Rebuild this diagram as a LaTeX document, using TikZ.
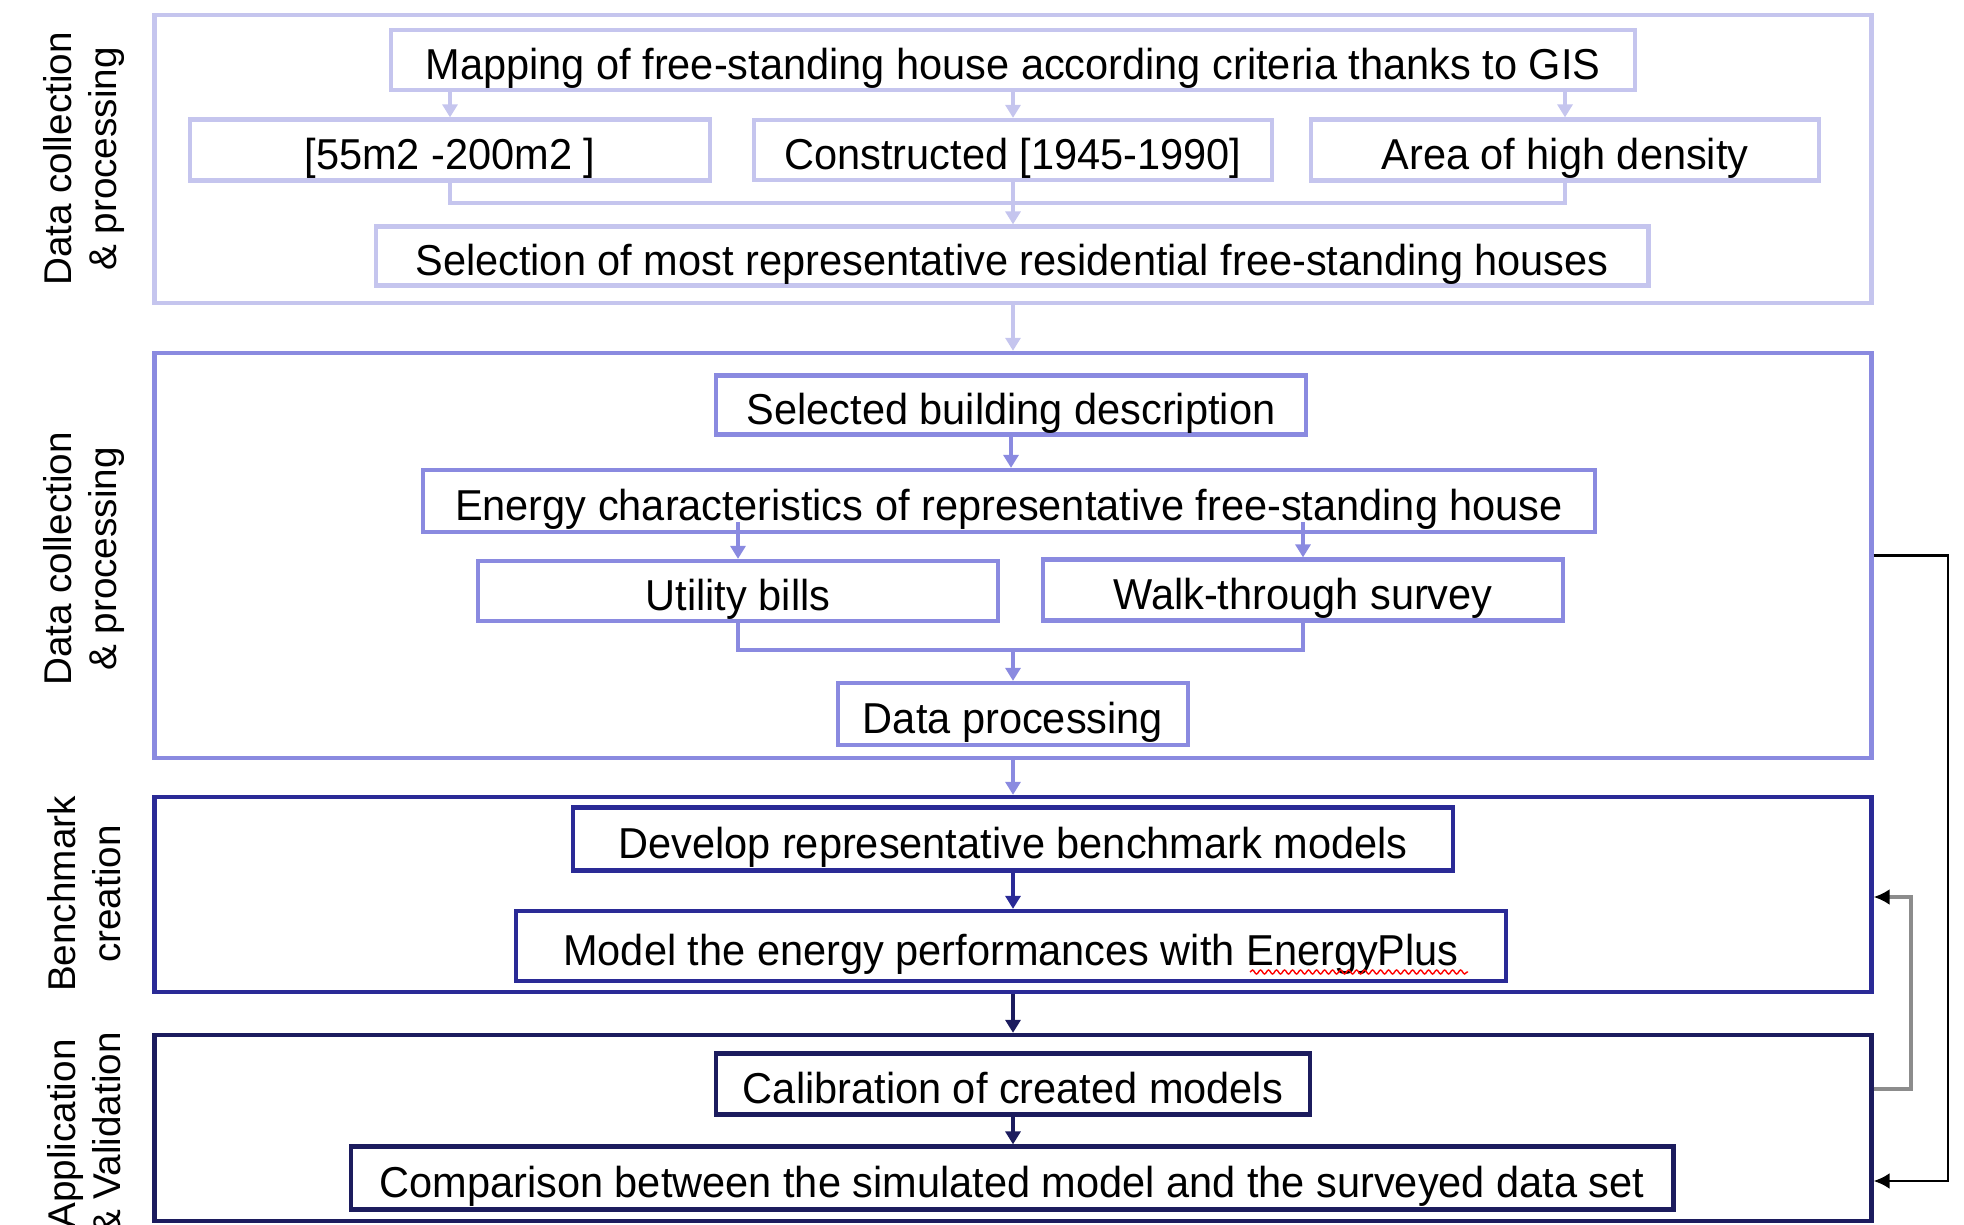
\documentclass[tikz,border=0pt]{standalone}
\usepackage{fontspec}
\setmainfont{Liberation Sans}
\newfontfamily\boxfont{Liberation Sans}[FakeStretch=0.96]
\usetikzlibrary{arrows.meta,decorations.pathmorphing}
\definecolor{stageLight}{HTML}{C5C5EE}
\definecolor{stageMid}{HTML}{8A8AE0}
\definecolor{stageDark}{HTML}{2A2A96}
\definecolor{stageNavy}{HTML}{1C1C5E}
\definecolor{loopGray}{HTML}{8C8C8C}
\tikzset{
    stagebox/.style={draw, line width=1.2pt, minimum width=17.16cm, inner sep=0pt},
    taskbox/.style={draw, line width=1.2pt, inner sep=0pt, text height=0.46cm, text depth=0.08cm, font=\boxfont\fontsize{12.3}{14}\selectfont},
    sidelabel/.style={rotate=90, align=center, font=\fontsize{11}{12.8}\selectfont},
    flow/.style={-{Triangle[length=1.3mm, width=1.5mm]}, line width=0.9pt},
    feedback/.style={-{Latex[length=1.6mm, width=1.6mm, color=black]}, line width=0.8pt}
}

\begin{document}
\begin{tikzpicture}[x=0.01cm, y=-0.01cm, line join=miter]
    \useasboundingbox (0,0) rectangle (1964,1225);

    % stage frames
    \node[stagebox, draw=stageLight, minimum height=2.88cm] (g1) at (1013,159) {};
    \node[stagebox, draw=stageMid, minimum height=4.05cm] (g2) at (1013,555.5) {};
    \node[stagebox, draw=stageDark, minimum height=1.95cm] (g3) at (1013,894.5) {};
    \node[stagebox, draw=stageNavy, minimum height=1.86cm] (g4) at (1013,1128) {};

    \node[sidelabel] (lab1) at (84,159) {Data collection\\\& processing};
    \node[sidelabel] (lab2) at (84,559) {Data collection\\\& processing};
    \node[sidelabel] (lab3) at (84,894) {Benchmark\\creation};
    \node[sidelabel] (lab4) at (84,1134) {Application\\\& Validation};

    % stage 1
    \node[taskbox, draw=stageLight, minimum width=12.43cm, minimum height=0.60cm] (map) at (1013,60) {Mapping of free-standing house according criteria thanks to GIS};
    \node[taskbox, draw=stageLight, minimum width=5.20cm, minimum height=0.61cm] (area55) at (450,150) {[55m2 -200m2 ]};
    \node[taskbox, draw=stageLight, minimum width=5.18cm, minimum height=0.60cm] (built) at (1013,150) {Constructed [1945-1990]};
    \node[taskbox, draw=stageLight, minimum width=5.08cm, minimum height=0.61cm] (dense) at (1565,150) {Area of high density};
    \node[taskbox, draw=stageLight, minimum width=12.72cm, minimum height=0.59cm] (sel) at (1012,256) {Selection of most representative residential free-standing houses};
    \coordinate (join1) at (1013,203);

    \draw[flow, stageLight] (area55.north |- map.south) -- (area55.north);
    \draw[flow, stageLight] (built.north |- map.south) -- (built.north);
    \draw[flow, stageLight] (dense.north |- map.south) -- (dense.north);
    \draw[line width=0.9pt, stageLight] (area55.south) |- (join1) -| (dense.south);
    \draw[flow, stageLight] (built.south) -- (built.south |- sel.north);
    \draw[flow, stageLight] (g1.south) -- (g2.north);

    % stage 2
    \node[taskbox, draw=stageMid, minimum width=5.89cm, minimum height=0.59cm] (descr) at (1011,405) {Selected building description};
    \node[taskbox, draw=stageMid, minimum width=11.72cm, minimum height=0.62cm] (energy) at (1009,501) {Energy characteristics of representative free-standing house};
    \node[taskbox, draw=stageMid, minimum width=5.19cm, minimum height=0.60cm] (bills) at (738,591) {Utility bills};
    \node[taskbox, draw=stageMid, minimum width=5.19cm, minimum height=0.61cm] (walk) at (1303,590) {Walk-through survey};
    \node[taskbox, draw=stageMid, minimum width=3.50cm, minimum height=0.62cm] (dproc) at (1013,714) {Data processing};
    \coordinate (join2) at (1013,650);

    \draw[flow, stageMid] (descr.south) -- (descr.south |- energy.north);
    \draw[flow, stageMid] ([yshift=0.12cm]bills.north |- energy.south) -- (bills.north);
    \draw[flow, stageMid] ([yshift=0.12cm]walk.north |- energy.south) -- (walk.north);
    \draw[line width=0.9pt, stageMid] (bills.south) |- (join2) -| (walk.south);
    \draw[flow, stageMid] (join2) -- (dproc.north);
    \draw[flow, stageMid] (g2.south) -- (g3.north);

    % stage 3
    \node[taskbox, draw=stageDark, minimum width=8.79cm, minimum height=0.63cm] (dev) at (1013,839) {Develop representative benchmark models};
    \node[taskbox, draw=stageDark, minimum width=9.89cm, minimum height=0.70cm] (model) at (1011,946) {Model the energy performances with EnergyPlus};
    \draw[red, line width=0.4pt, decorate, decoration={snake, amplitude=0.2mm, segment length=0.8mm}] (1250,972) -- (1468,972);

    \draw[flow, stageDark] (dev.south) -- (dev.south |- model.north);
    \draw[flow, stageNavy] (g3.south) -- (g4.north);

    % stage 4
    \node[taskbox, draw=stageNavy, minimum width=5.94cm, minimum height=0.61cm] (calib) at (1013,1084) {Calibration of created models};
    \node[taskbox, draw=stageNavy, minimum width=13.22cm, minimum height=0.63cm] (comp) at (1012,1178) {Comparison between the simulated model and the surveyed data set};

    \draw[flow, stageNavy] (calib.south) -- (calib.south |- comp.north);

    % feedback loops on the right
    \coordinate (loopA) at (1948,1181);
    \coordinate (loopB) at (1911,1089);
    \coordinate (loopC) at (1911,897);
    \draw[feedback, black] (g2.east) -| (loopA) -- (g4.east |- loopA);
    \draw[feedback, loopGray, line width=1.3pt] (g4.east |- loopB) -- (loopB) -- (loopC) -- (g3.east |- loopC);
\end{tikzpicture}
\end{document}
